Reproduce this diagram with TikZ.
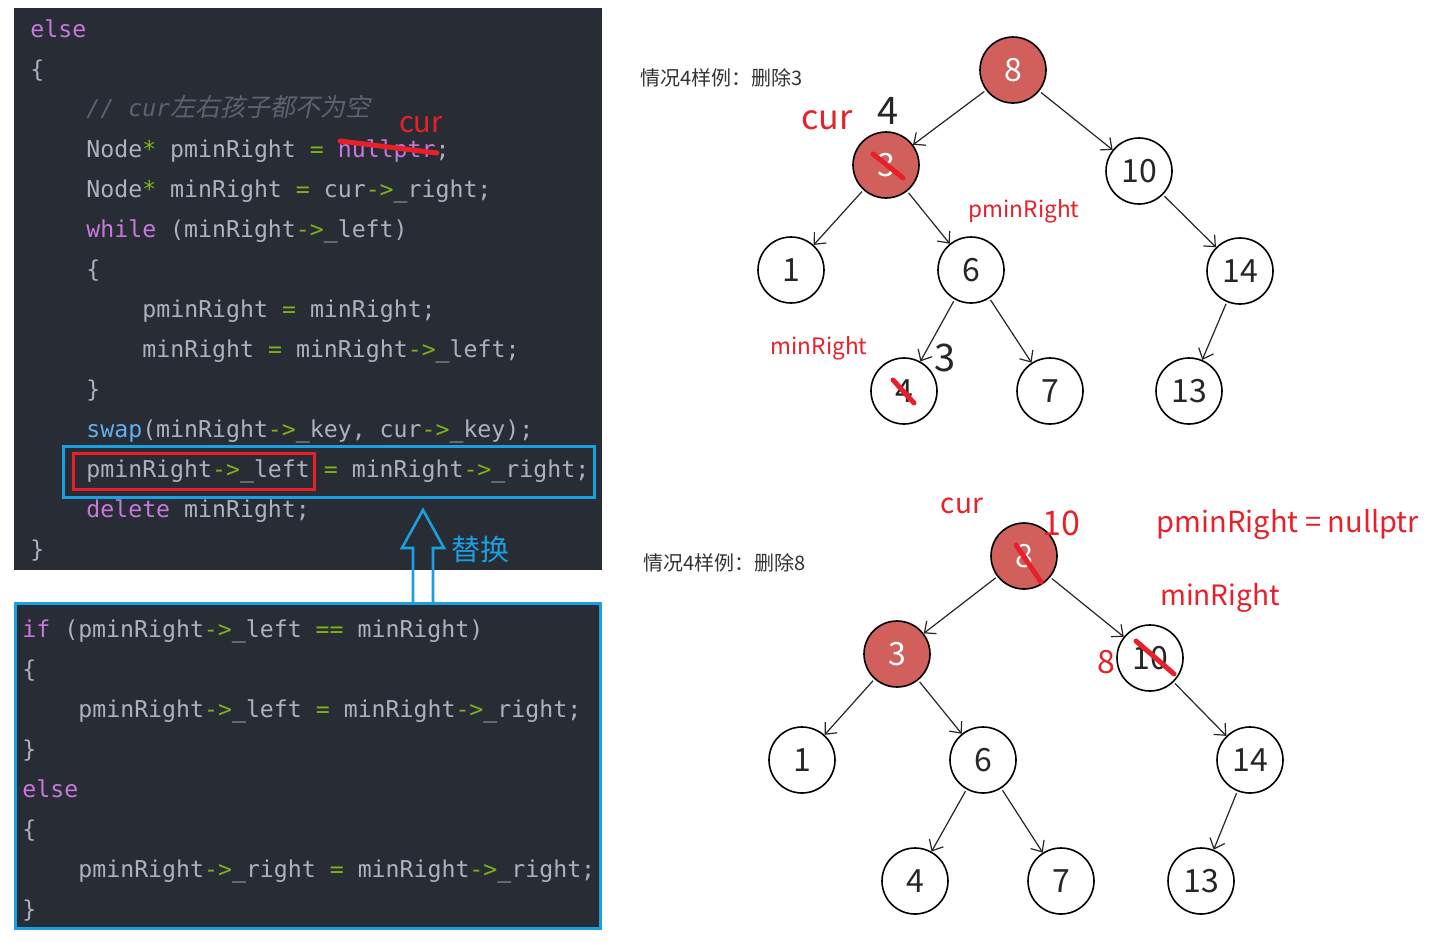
\documentclass[tikz,border=0pt]{standalone}
\usepackage{fontspec}
\setmonofont{DejaVu Sans Mono}
\newfontfamily\cjk{Noto Sans CJK SC}
\newfontfamily\cjkit[FakeSlant=0.2]{Noto Sans CJK SC}
\usetikzlibrary{arrows.meta}
\definecolor{panel}{HTML}{282C34}
\definecolor{codefg}{HTML}{ABB2BF}
\definecolor{kwc}{HTML}{C678DD}
\definecolor{opc}{HTML}{7FAF1B}
\definecolor{fnc}{HTML}{61AFEF}
\definecolor{cmc}{HTML}{5C6370}
\definecolor{markred}{HTML}{E8202A}
\definecolor{boxblue}{HTML}{1AA0E0}
\definecolor{nodered}{HTML}{D15F5C}
\definecolor{capgray}{HTML}{333333}
\newcommand\ckw[1]{\textcolor{kwc}{#1}}
\newcommand\cop[1]{\textcolor{opc}{#1}}
\newcommand\cfn[1]{\textcolor{fnc}{#1}}
\newcommand\codefont{\ttfamily\fontsize{11.6pt}{14pt}\selectfont}
\newcommand\numfont{\cjk\fontsize{16pt}{18pt}\selectfont}
\newcommand\cjksize[1]{\cjk\fontsize{#1}{#1}\selectfont}
\tikzset{
  code/.style={anchor=base west, inner sep=0pt, font=\codefont, text=codefg},
  tnode/.style={circle, draw=black, line width=0.8pt, minimum size=33pt, inner sep=0pt, font=\numfont, text=black!85},
  rnode/.style={tnode, fill=nodered, text=white},
  tedge/.style={line width=0.6pt, black!85, shorten <=1pt, -{Straight Barb[length=4.5pt,width=8pt]}},
  strike/.style={draw=markred, line width=2.5pt, line cap=round},
  rlab/.style={text=markred, inner sep=0pt},
  klab/.style={text=black!85, inner sep=0pt},
  caption/.style={anchor=west, inner sep=0pt, text=capgray, font=\cjksize{10pt}},
}
\begin{document}
\begin{tikzpicture}[x=0.5pt,y=-0.5pt]
\useasboundingbox (0,0) rectangle (1440,948);
\fill[white] (0,0) rectangle (1440,948);

% ---------- top code panel ----------
\fill[panel] (14,8) rectangle (602,570);
\node[code] (c1) at (30,37) {\ckw{else}};
\node[code] (c2) at (30,77) {\{};
\node[code, text=cmc] (c3) at (86,116) {\itshape// cur{\cjkit\fontsize{12.5pt}{14pt}\selectfont 左右孩子都不为空}};
\node[code] (c4) at (86,157) {Node\cop{*} pminRight \cop{=} \ckw{nullptr};};
\node[code] (c5) at (86,197) {Node\cop{*} minRight \cop{=} cur\cop{->}\_right;};
\node[code] (c6) at (86,237) {\ckw{while} (minRight\cop{->}\_left)};
\node[code] (c7) at (86,277) {\{};
\node[code] (c8) at (142,317) {pminRight \cop{=} minRight;};
\node[code] (c9) at (142,357) {minRight \cop{=} minRight\cop{->}\_left;};
\node[code] (c10) at (86,397) {\}};
\node[code] (c11) at (86,437) {\cfn{swap}(minRight\cop{->}\_key, cur\cop{->}\_key);};
\node[code] (c12) at (86,477) {pminRight\cop{->}\_left \cop{=} minRight\cop{->}\_right;};
\node[code] (c13) at (86,517) {\ckw{delete} minRight;};
\node[code] (c14) at (30,557) {\}};

% annotations on the top panel
\draw[strike] (340,141) -- (437,153);
\node[rlab, font=\cjksize{14.5pt}] (curA) at (421,125) {cur};
\draw[boxblue, line width=1.5pt] (63,446) rectangle (594,497);
\draw[markred, line width=1.5pt] (73,453) rectangle (314,489);

% ---------- bottom code panel ----------
\draw[boxblue, line width=1.5pt, fill=panel] (15.5,603.5) rectangle (600.5,928.5);
\node[code] (d1) at (22,637) {\ckw{if} (pminRight\cop{->}\_left \cop{==} minRight)};
\node[code] (d2) at (22,677) {\{};
\node[code] (d3) at (78,717) {pminRight\cop{->}\_left \cop{=} minRight\cop{->}\_right;};
\node[code] (d4) at (22,757) {\}};
\node[code] (d5) at (22,797) {\ckw{else}};
\node[code] (d6) at (22,837) {\{};
\node[code] (d7) at (78,877) {pminRight\cop{->}\_right \cop{=} minRight\cop{->}\_right;};
\node[code] (d8) at (22,917) {\}};

% hollow arrow "替换"
\draw[boxblue, line width=1.3pt, line join=miter]
  (413,602) -- (413,548) -- (402,548) -- (423,510) -- (444,548) -- (433,548) -- (433,602);
\node[inner sep=0pt, text=boxblue, font=\cjksize{14.5pt}] (swaplab) at (480,549) {替换};

% ---------- top tree ----------
\node[caption] (capA) at (640,78) {情况4样例：删除3};
\node[rnode] (a8) at (1013,70) {8};
\node[rnode] (a3) at (886,165) {3};
\node[tnode] (a10) at (1139,171) {10};
\node[tnode] (a1) at (791,270) {1};
\node[tnode] (a6) at (971,270) {6};
\node[tnode] (a14) at (1240,271) {14};
\node[tnode] (a4) at (904,391) {4};
\node[tnode] (a7) at (1050,391) {7};
\node[tnode] (a13) at (1189,391) {13};
\draw[tedge] (a8) -- (a3);
\draw[tedge] (a8) -- (a10);
\draw[tedge] (a3) -- (a1);
\draw[tedge] (a3) -- (a6);
\draw[tedge] (a10) -- (a14);
\draw[tedge] (a6) -- (a4);
\draw[tedge] (a6) -- (a7);
\draw[tedge] (a14) -- (a13);
\draw[strike] (873,154) -- (903,178);
\draw[strike] (893,380) -- (914,403);
\node[rlab, font=\cjksize{17pt}] (curB) at (827,120) {cur};
\node[klab, font=\cjksize{19pt}] (newA) at (888,111) {4};
\node[rlab, font=\cjksize{11.3pt}] (pmrA) at (1024,211) {pminRight};
\node[rlab, font=\cjksize{11.3pt}] (mrA) at (819,348) {minRight};
\node[klab, font=\cjksize{19pt}] (newB) at (945,358) {3};

% ---------- bottom tree ----------
\node[caption] (capB) at (643,563) {情况4样例：删除8};
\node[rnode] (b8) at (1024,556) {8};
\node[rnode] (b3) at (897,654) {3};
\node[tnode] (b10) at (1150,658) {10};
\node[tnode] (b1) at (802,760) {1};
\node[tnode] (b6) at (983,760) {6};
\node[tnode] (b14) at (1250,760) {14};
\node[tnode] (b4) at (915,881) {4};
\node[tnode] (b7) at (1061,881) {7};
\node[tnode] (b13) at (1201,881) {13};
\draw[tedge] (b8) -- (b3);
\draw[tedge] (b8) -- (b10);
\draw[tedge] (b3) -- (b1);
\draw[tedge] (b3) -- (b6);
\draw[tedge] (b10) -- (b14);
\draw[tedge] (b6) -- (b4);
\draw[tedge] (b6) -- (b7);
\draw[tedge] (b14) -- (b13);
\draw[strike] (1016,545) -- (1041,582);
\draw[strike] (1136,641) -- (1174,674);
\node[rlab, font=\cjksize{14pt}] (curC) at (962,506) {cur};
\node[rlab, font=\cjksize{17pt}] (newC) at (1061,523) {10};
\node[rlab, font=\cjksize{14.5pt}] (pmrB) at (1288,525) {pminRight = nullptr};
\node[rlab, font=\cjksize{14pt}] (mrB) at (1220,598) {minRight};
\node[rlab, font=\cjksize{16pt}] (newD) at (1106,662) {8};
\end{tikzpicture}
\end{document}
